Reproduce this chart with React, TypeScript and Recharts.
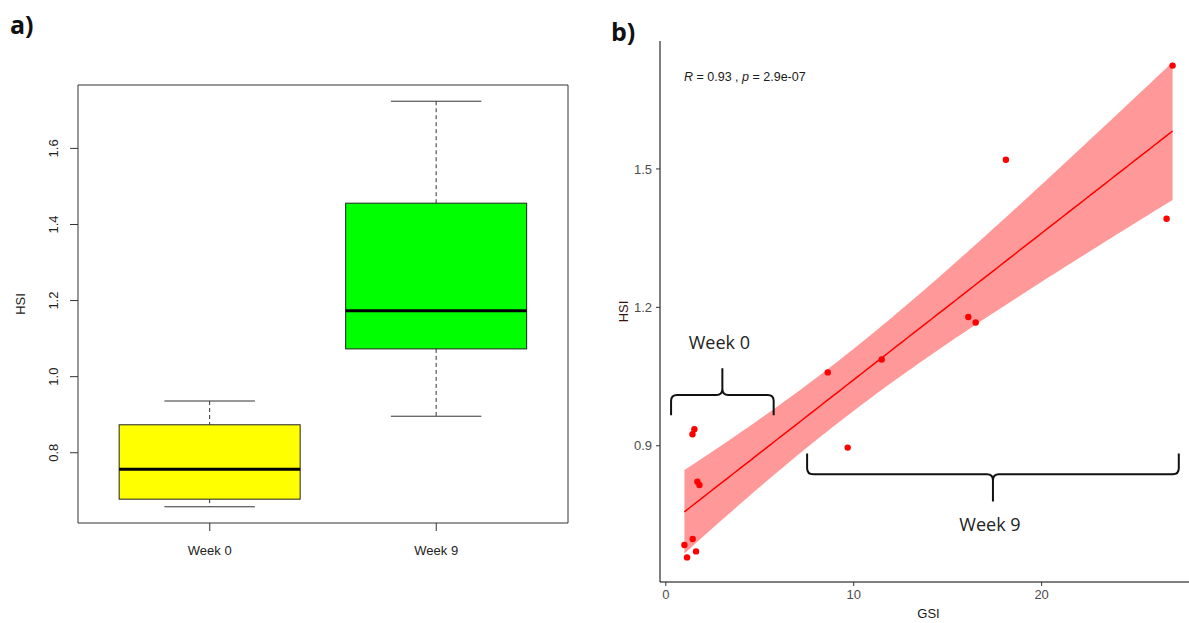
import React from 'react';
import {
  Area,
  Bar,
  ComposedChart,
  Line,
  ReferenceArea,
  ReferenceDot,
  Scatter,
  XAxis,
  YAxis,
} from 'recharts';

const FONT = '"Liberation Sans", Arial, sans-serif';
const NOTE_FONT = '"Open Sans", "Noto Sans", sans-serif';

const WEEKS = ['Week 0', 'Week 9'];
const BOX_COLORS = ['#ffff00', '#00ff00'];

// GSI and HSI per fish, paired by index
const WEEK0_GSI = [0.99, 1.13, 1.43, 1.61, 1.42, 1.52, 1.68, 1.79];
const WEEK0_HSI = [0.685, 0.658, 0.698, 0.671, 0.925, 0.936, 0.822, 0.815];
const WEEK9_GSI = [8.62, 9.68, 11.49, 16.1, 16.49, 18.1, 26.65, 26.97];
const WEEK9_HSI = [1.059, 0.896, 1.087, 1.179, 1.167, 1.52, 1.392, 1.724];

const BOX_TICKS = [0.8, 1.0, 1.2, 1.4, 1.6];
const GSI_TICKS = [0, 10, 20];
const HSI_TICKS = [0.9, 1.2, 1.5];

// brace annotations, in GSI / HSI units
const WEEK0_BRACE = { x1: 0.28, x2: 5.74, y1: 0.966, y2: 1.068 };
const WEEK9_BRACE = { x1: 7.52, x2: 27.3, y1: 0.779, y2: 0.883 };
const COR_LABEL = { x: 0.97, y: 1.7 };

const T_CRIT = 2.145; // qt(0.975, df = 14)

// Tukey hinges, same as R's fivenum()
function fivenum(values: number[]) {
  const s = [...values].sort((a, b) => a - b);
  const n = s.length;
  const n4 = Math.floor((n + 3) / 2) / 2;
  const d = [1, n4, (n + 1) / 2, n + 1 - n4, n];
  return d.map((i) => 0.5 * (s[Math.floor(i) - 1] + s[Math.ceil(i) - 1]));
}

function boxStats(values: number[]) {
  const [, q1, med, q3] = fivenum(values);
  const reach = 1.5 * (q3 - q1);
  const inside = values.filter((v) => v >= q1 - reach && v <= q3 + reach);
  return { lo: Math.min(...inside), q1, med, q3, hi: Math.max(...inside) };
}

function expand(values: number[], frac: number): [number, number] {
  const lo = Math.min(...values);
  const hi = Math.max(...values);
  const pad = (hi - lo) * frac;
  return [lo - pad, hi + pad];
}

const boxData = [WEEK0_HSI, WEEK9_HSI].map((vals, i) => {
  const st = boxStats(vals);
  return { name: WEEKS[i], box: [st.q1, st.q3], fill: BOX_COLORS[i], ...st };
});
const boxDomain = expand([...WEEK0_HSI, ...WEEK9_HSI], 0.04);

const allGsi = [...WEEK0_GSI, ...WEEK9_GSI];
const allHsi = [...WEEK0_HSI, ...WEEK9_HSI];
const points = allGsi.map((x, i) => ({ x, y: allHsi[i] }));
const gsiDomain = expand(allGsi, 0.05);
const hsiDomain = expand(allHsi, 0.05);

// lm(HSI ~ GSI) with 95% confidence band
const n = allGsi.length;
const mx = allGsi.reduce((a, b) => a + b, 0) / n;
const my = allHsi.reduce((a, b) => a + b, 0) / n;
const sxx = allGsi.reduce((a, x) => a + (x - mx) ** 2, 0);
const sxy = allGsi.reduce((a, x, i) => a + (x - mx) * (allHsi[i] - my), 0);
const slope = sxy / sxx;
const icpt = my - slope * mx;
const sse = allGsi.reduce((a, x, i) => a + (allHsi[i] - icpt - slope * x) ** 2, 0);
const sigma = Math.sqrt(sse / (n - 2));
const xMin = Math.min(...allGsi);
const xMax = Math.max(...allGsi);
const band = Array.from({ length: 80 }, (_, i) => {
  const x = xMin + ((xMax - xMin) * i) / 79;
  const fit = icpt + slope * x;
  const se = sigma * Math.sqrt(1 / n + (x - mx) ** 2 / sxx);
  return { x, fit, ci: [fit - T_CRIT * se, fit + T_CRIT * se] };
});

// eslint-disable-next-line @typescript-eslint/no-explicit-any
function BoxShape(props: any) {
  const { x, y, width, height, payload } = props;
  const { lo, med, q1, q3, hi, fill } = payload;
  const top = Math.min(y, y + height);
  const h = Math.abs(height);
  const k = h / (q3 - q1);
  const py = (v: number) => top + (q3 - v) * k;
  const cx = x + width / 2;
  const cap = width / 4;
  return (
    <g>
      <line x1={cx} x2={cx} y1={py(hi)} y2={top} stroke="#333" strokeDasharray="4 3" />
      <line x1={cx} x2={cx} y1={top + h} y2={py(lo)} stroke="#333" strokeDasharray="4 3" />
      <line x1={cx - cap} x2={cx + cap} y1={py(hi)} y2={py(hi)} stroke="#333" />
      <line x1={cx - cap} x2={cx + cap} y1={py(lo)} y2={py(lo)} stroke="#333" />
      <rect x={x} y={top} width={width} height={h} fill={fill} stroke="#222" />
      <line x1={x} x2={x + width} y1={py(med)} y2={py(med)} stroke="#000" strokeWidth={3} />
    </g>
  );
}

// eslint-disable-next-line @typescript-eslint/no-explicit-any
function RotatedTick({ x, y, payload }: any) {
  const cx = x - 14;
  return (
    <text
      x={cx}
      y={y}
      transform={`rotate(-90, ${cx}, ${y})`}
      textAnchor="middle"
      dominantBaseline="central"
      fontSize={13}
      fontFamily={FONT}
      fill="#222"
    >
      {Number(payload.value).toFixed(1)}
    </text>
  );
}

function bracePath(x: number, y: number, w: number, h: number, tipUp: boolean) {
  const r = 6;
  const cx = x + w / 2;
  const r2 = x + w;
  if (tipUp) {
    const bar = y + h * 0.57;
    const end = y + h;
    return [
      `M${x},${end} L${x},${bar + r} Q${x},${bar} ${x + r},${bar} L${cx - r},${bar} Q${cx},${bar} ${cx},${bar - r} L${cx},${y}`,
      `M${cx},${bar - r} Q${cx},${bar} ${cx + r},${bar} L${r2 - r},${bar} Q${r2},${bar} ${r2},${bar + r} L${r2},${end}`,
    ].join(' ');
  }
  const bar = y + h * 0.43;
  const end = y + h;
  return [
    `M${x},${y} L${x},${bar - r} Q${x},${bar} ${x + r},${bar} L${cx - r},${bar} Q${cx},${bar} ${cx},${bar + r} L${cx},${end}`,
    `M${cx},${bar + r} Q${cx},${bar} ${cx + r},${bar} L${r2 - r},${bar} Q${r2},${bar} ${r2},${bar - r} L${r2},${y}`,
  ].join(' ');
}

function braceShape(label: string, tipUp: boolean) {
  // eslint-disable-next-line @typescript-eslint/no-explicit-any
  return (props: any) => {
    const { x, y, width, height } = props;
    const cx = x + width / 2;
    const ty = tipUp ? y - 19 : y + height + 29;
    return (
      <g>
        <path d={bracePath(x, y, width, height, tipUp)} fill="none" stroke="#111" strokeWidth={2} />
        <text x={cx - 3} y={ty} textAnchor="middle" fontSize={18} fontFamily={NOTE_FONT} fill="#222">
          {label}
        </text>
      </g>
    );
  };
}

// eslint-disable-next-line @typescript-eslint/no-explicit-any
function CorLabel({ cx, cy }: any) {
  return (
    <text x={cx} y={cy} dominantBaseline="central" fontSize={12.5} fontFamily={FONT} fill="#1a1a1a">
      <tspan fontStyle="italic">R</tspan> = 0.93 , <tspan fontStyle="italic">p</tspan> = 2.9e-07
    </text>
  );
}

// eslint-disable-next-line @typescript-eslint/no-explicit-any
function RedDot({ cx, cy }: any) {
  return <circle cx={cx} cy={cy} r={3.2} fill="#ff0000" />;
}

function HsiBoxplot() {
  return (
    <ComposedChart
      width={600}
      height={623}
      data={boxData}
      margin={{ top: 84, right: 31, bottom: 0, left: 0 }}
      barCategoryGap="10%"
    >
      <XAxis
        dataKey="name"
        height={100}
        padding={{ left: 18.5, right: 18.5 }}
        tickSize={8}
        tickMargin={15}
        stroke="#333"
        tick={{ fill: '#222', fontSize: 13, fontFamily: FONT }}
      />
      {/* top and right edges of the box frame */}
      <XAxis xAxisId="top" orientation="top" height={1} tick={false} tickLine={false} stroke="#333" />
      <YAxis
        type="number"
        width={78}
        domain={boxDomain}
        ticks={BOX_TICKS}
        tickSize={8}
        stroke="#333"
        tick={<RotatedTick />}
        label={{
          value: 'HSI',
          angle: -90,
          position: 'insideLeft',
          offset: 20,
          fontSize: 13,
          fontFamily: FONT,
          fill: '#222',
          style: { textAnchor: 'middle' },
        }}
      />
      <YAxis
        yAxisId="right"
        orientation="right"
        width={1}
        domain={[0, 1]}
        tick={false}
        tickLine={false}
        stroke="#333"
      />
      <Bar dataKey="box" shape={<BoxShape />} isAnimationActive={false} />
    </ComposedChart>
  );
}

function GsiScatter() {
  return (
    <ComposedChart width={600} height={623} data={band} margin={{ top: 41, right: 3, bottom: 0, left: 0 }}>
      <XAxis
        dataKey="x"
        type="number"
        domain={gsiDomain}
        ticks={GSI_TICKS}
        height={41}
        tickSize={4}
        tickMargin={4}
        stroke="#000"
        tickLine={{ stroke: '#333' }}
        tick={{ fill: '#4d4d4d', fontSize: 13, fontFamily: FONT }}
        label={{
          value: 'GSI',
          position: 'insideBottom',
          offset: 5,
          fontSize: 13,
          fontFamily: FONT,
          fill: '#1a1a1a',
        }}
      />
      <YAxis
        type="number"
        domain={hsiDomain}
        ticks={HSI_TICKS}
        width={60}
        tickSize={4}
        tickMargin={4}
        stroke="#000"
        tickLine={{ stroke: '#333' }}
        tick={{ fill: '#4d4d4d', fontSize: 13, fontFamily: FONT }}
        label={{
          value: 'HSI',
          angle: -90,
          position: 'insideLeft',
          offset: 23,
          fontSize: 13,
          fontFamily: FONT,
          fill: '#3a1212',
          style: { textAnchor: 'middle' },
        }}
      />
      <Area
        dataKey="ci"
        type="linear"
        stroke="none"
        fill="#ff0000"
        fillOpacity={0.4}
        isAnimationActive={false}
      />
      <Line dataKey="fit" type="linear" stroke="#ff0000" strokeWidth={1.5} dot={false} isAnimationActive={false} />
      <ReferenceArea {...WEEK0_BRACE} shape={braceShape('Week 0', true)} />
      <ReferenceArea {...WEEK9_BRACE} shape={braceShape('Week 9', false)} />
      <ReferenceDot x={COR_LABEL.x} y={COR_LABEL.y} shape={<CorLabel />} />
      <Scatter data={points} dataKey="y" shape={<RedDot />} isAnimationActive={false} />
    </ComposedChart>
  );
}

export default function App() {
  return (
    <div
      style={{
        position: 'absolute',
        left: 0,
        top: 0,
        width: 1189,
        height: 623,
        overflow: 'hidden',
        background: '#fff',
      }}
    >
      <div style={{ position: 'absolute', left: 0, top: 0 }}>
        <HsiBoxplot />
      </div>
      <div style={{ position: 'absolute', left: 600, top: 0 }}>
        <GsiScatter />
      </div>
      <svg width={1189} height={623} style={{ position: 'absolute', left: 0, top: 0, pointerEvents: 'none' }}>
        <text x={10} y={34} fontSize={25} fontWeight={700} fontFamily={NOTE_FONT} fill="#111">
          a)
        </text>
        <text x={611} y={41} fontSize={25} fontWeight={700} fontFamily={NOTE_FONT} fill="#111">
          b)
        </text>
      </svg>
    </div>
  );
}
